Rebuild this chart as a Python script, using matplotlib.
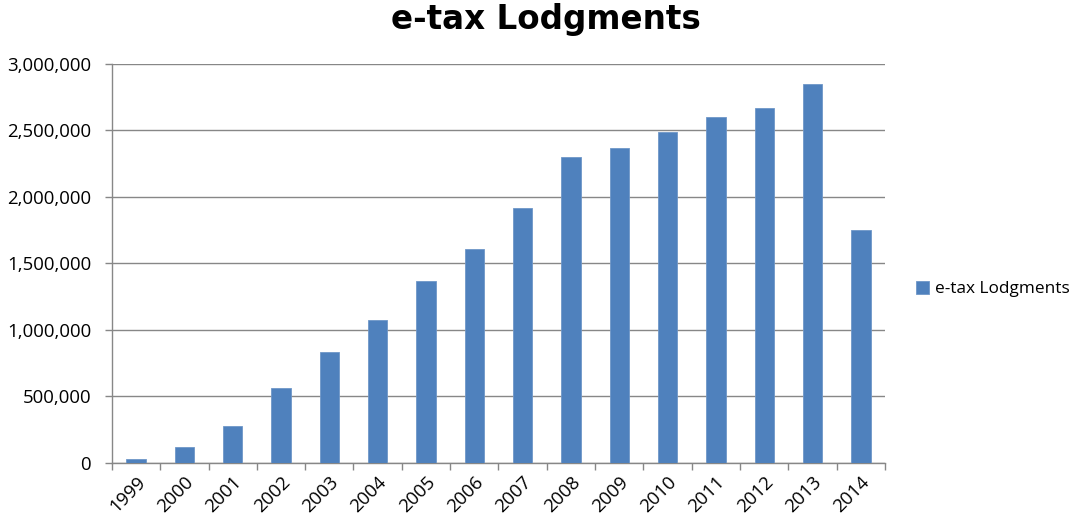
import matplotlib
matplotlib.use("Agg")
import matplotlib.pyplot as plt
import numpy as np
from matplotlib.ticker import FuncFormatter, FixedLocator

# data
years = [str(y) for y in range(1999, 2015)]
lodgments = [30000, 120000, 278000, 564000, 835000, 1075000, 1368000, 1609000,
             1917000, 2300000, 2368000, 2485000, 2601000, 2669000, 2850000, 1752000]
series_name = "e-tax Lodgments"

bar_color = "#4F81BD"
grid_color = "#878787"

fig = plt.figure(figsize=(10.76, 5.21), dpi=100)
ax = fig.add_axes([0.104, 0.1113, 0.7185, 0.766])

x = np.arange(len(years))
ax.bar(x, lodgments, width=0.4, color=bar_color, edgecolor="#6F97C8",
       linewidth=0.6, label=series_name, zorder=3)

ax.set_xlim(-0.5, len(years) - 0.5)
ax.set_ylim(0, 3000000)
ax.set_yticks(np.arange(0, 3000001, 500000))
ax.yaxis.set_major_formatter(FuncFormatter(lambda v, p: f"{int(v):,}"))
ax.yaxis.grid(True, color=grid_color, linewidth=1.0, zorder=0)

# category labels centred, ticks on category boundaries
ax.set_xticks(x)
ax.set_xticklabels(years, rotation=45, ha="right", rotation_mode="anchor")
ax.xaxis.set_minor_locator(FixedLocator(np.arange(-0.5, len(years), 1.0)))
ax.tick_params(axis="x", which="major", length=0, pad=7)
ax.tick_params(axis="x", which="minor", length=5, color=grid_color, width=1)
ax.tick_params(axis="y", length=5, color=grid_color, width=1, pad=10)

for side in ["top", "right"]:
    ax.spines[side].set_visible(False)
for side in ["left", "bottom"]:
    ax.spines[side].set_color(grid_color)
    ax.spines[side].set_linewidth(1.0)

for lbl in ax.get_xticklabels() + ax.get_yticklabels():
    lbl.set_fontfamily("Open Sans")
    lbl.set_fontsize(13.4)
    lbl.set_color("black")

fig.text(0.507, 0.962, "e-tax Lodgments", ha="center", va="center",
         fontsize=23.5, fontweight="bold", family="DejaVu Sans")

fig.legend(loc="center left", bbox_to_anchor=(0.851, 0.445), frameon=False,
           prop={"family": "Open Sans", "size": 12.4}, handlelength=0.75,
           handleheight=0.75, handletextpad=0.35, borderpad=0, borderaxespad=0)

fig.savefig("out.png", dpi=100)
